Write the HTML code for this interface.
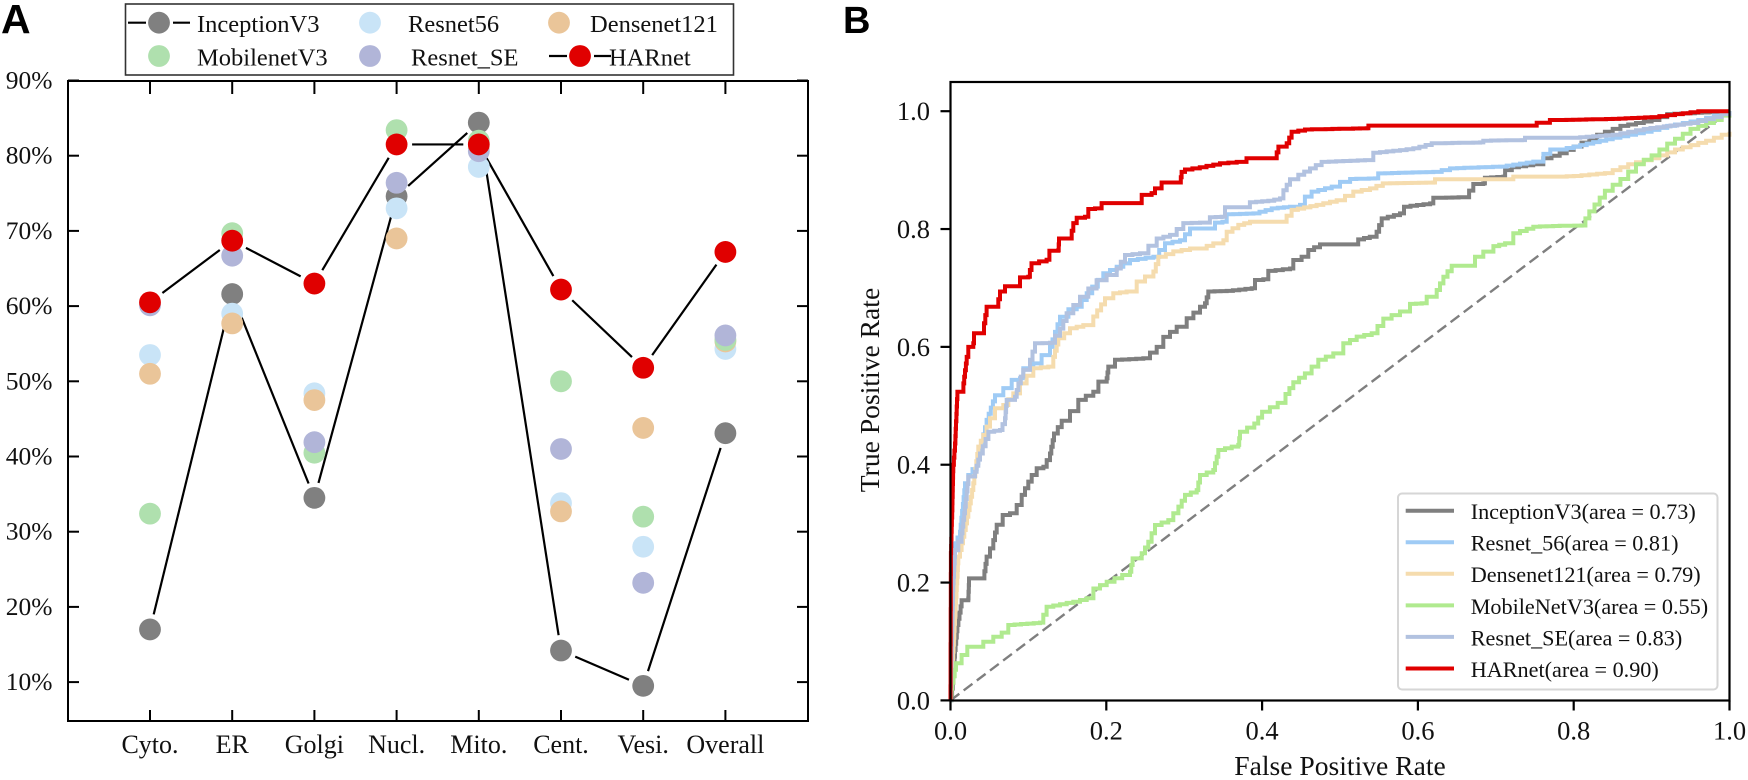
<!DOCTYPE html>
<html lang="en">
<head>
<meta charset="utf-8">
<title>Model comparison and ROC curves</title>
<style>
html,body{margin:0;padding:0;background:#fff;}
svg{display:block;}
text{font-family:"Liberation Serif",serif;fill:#111;}
.tag{font-family:"Liberation Sans",sans-serif;font-weight:bold;fill:#000;font-size:38px;}
</style>
</head>
<body>
<svg id="fig" xmlns="http://www.w3.org/2000/svg" width="1748" height="780" viewBox="0 0 1748 780">
  <rect width="1748" height="780" fill="#fff"/>
  <text class="tag" x="1" y="33" style="font-size:41px">A</text>
  <text class="tag" x="843" y="33">B</text>
  <g id="panelA"></g>
  <g id="panelB"></g>
</svg>
<script>
// ---------- Panel A data ----------
const categories = ['Cyto.','ER','Golgi','Nucl.','Mito.','Cent.','Vesi.','Overall'];
const yTicksA = [10,20,30,40,50,60,70,80,90];
const inceptionScores = [17,61.6,34.5,74.6,84.4,14.2,9.5,43.1];
const resnet56Scores = [53.5,59,48.4,73,78.5,33.8,28,54.3];
const densenetScores = [51,57.7,47.5,69,81,32.7,43.8,55.3];
const mobilenetScores = [32.4,69.7,40.5,83.4,82,50,32,55.5];
const resnetSeScores = [60.1,66.7,41.9,76.4,80.6,41,23.2,56.1];
const harnetScores = [60.5,68.7,63,81.5,81.5,62.2,51.8,67.2];

// ---------- Panel B data ----------
const xTicksB = [0,0.2,0.4,0.6,0.8,1];
const yTicksB = [0,0.2,0.4,0.6,0.8,1];
const inceptionFpr = [0,.003,.0058,.0088,.0143,.0229,.0237,.0421,.0464,.055,.0593,.067,.0764,.085,.0914,.1042,.1106,.1192,.1277,.1329,.1427,.1534,.164,.164,.1833,.1898,.2005,.2026,.2112,.2475,.2647,.2732,.2904,.3032,.3203,.3267,.331,.3545,.3866,.3909,.4016,.408,.4358,.44,.4507,.4593,.4743,.5212,.5233,.5383,.547,.5535,.577,.5822,.6156,.6198,.6604,.6711,.684,.686,.7098,.712,.7205,.748,.761,.782,.80,.83,.86,.90,.92,1];
const inceptionTpr = [0,.03,.0855,.128,.17,.173,.207,.207,.244,.272,.298,.3147,.3175,.3317,.3487,.3826,.394,.3967,.419,.453,.4747,.491,.493,.51,.524,.541,.5466,.5665,.578,.5806,.6,.617,.634,.6485,.668,.674,.694,.695,.6995,.7135,.7148,.729,.733,.7475,.753,.7645,.774,.774,.7825,.787,.7955,.818,.8265,.838,.8435,.853,.854,.8765,.8775,.887,.889,.9,.9048,.91,.92,.9285,.94,.96,.975,.985,.995,1];
const resnet56Fpr = [0,.0036,.0058,.0122,.0186,.0229,.0336,.0464,.0571,.0678,.0785,.0892,.0935,.1063,.1277,.1406,.1513,.162,.1748,.1962,.2133,.2304,.2604,.2754,.2946,.3074,.3203,.3374,.3396,.349,.3545,.3888,.4123,.4358,.4486,.455,.4636,.4893,.5,.513,.5449,.549,.6198,.6412,.7054,.7482,.7611,.77,.782,.80,.85,.89,.92,.96,1];
const resnet56Tpr = [0,.1987,.2666,.2864,.3684,.3826,.4024,.476,.518,.53,.544,.5466,.5637,.572,.6,.651,.664,.668,.691,.725,.736,.7475,.753,.776,.781,.801,.801,.801,.811,.8125,.825,.8265,.835,.838,.841,.855,.8635,.872,.88,.885,.886,.8945,.897,.903,.906,.9145,.9275,.935,.935,.94,.955,.965,.975,.985,1];
const densenetFpr = [0,.0058,.01,.0143,.0229,.0293,.0357,.0421,.0507,.0571,.0678,.0806,.0892,.1063,.1256,.132,.1384,.1534,.1705,.1833,.1983,.209,.2261,.239,.2604,.2668,.286,.3074,.3203,.3374,.3503,.3545,.3695,.3845,.425,.4379,.47,.4958,.5171,.5385,.5549,.6198,.622,.7182,.7225,.782,.80,.84,.87,.90,.93,.97,1];
const densenetTpr = [0,.142,.244,.2666,.323,.3684,.4307,.4505,.479,.4957,.5013,.521,.538,.5637,.5665,.583,.6146,.6316,.637,.6515,.6825,.691,.694,.711,.728,.753,.762,.767,.767,.7757,.781,.7955,.807,.8125,.8125,.8325,.841,.849,.8635,.869,.8775,.879,.8845,.8845,.889,.889,.89,.895,.91,.92,.935,.95,.965];
const mobilenetFpr = [0,.002,.007,.0216,.0336,.0421,.055,.0657,.0742,.1149,.1234,.1577,.1748,.1834,.2005,.2304,.2338,.2454,.2539,.2625,.2796,.2925,.301,.316,.3203,.3374,.3438,.3695,.3716,.39,.40,.42,.43,.44,.455,.4722,.4914,.5043,.5214,.5407,.5556,.577,.5899,.6049,.6113,.6241,.6327,.6434,.6711,.6733,.684,.6969,.7119,.7225,.7482,.782,.81,.82,.84,.86,.88,.90,.92,.95,.98,1];
const mobilenetTpr = [0,.03,.063,.091,.0912,.0997,.108,.115,.128,.132,.159,.1676,.1733,.19,.2015,.2185,.241,.2496,.2694,.2977,.306,.329,.3487,.357,.3825,.391,.425,.4336,.456,.47,.49,.505,.52,.54,.555,.578,.589,.606,.6174,.623,.648,.66,.673,.674,.685,.6965,.719,.7377,.7377,.753,.7617,.771,.776,.793,.804,.8056,.806,.83,.865,.885,.91,.925,.945,.97,.985,1];
const resnetSeFpr = [0,.0036,.0058,.0143,.0186,.0229,.0314,.0379,.0486,.0636,.07,.0721,.0828,.0871,.0935,.102,.1085,.1277,.1406,.149,.1662,.1876,.2004,.2133,.224,.2433,.2647,.2818,.2989,.3203,.333,.348,.3524,.376,.3844,.408,.423,.4273,.4358,.4465,.4615,.4764,.5321,.5428,.577,.5941,.6177,.6798,.684,.7332,.7375,.782,.80,.85,.89,.95,.98,1];
const resnetSeTpr = [0,.1987,.255,.2836,.329,.38,.388,.419,.456,.459,.479,.51,.5155,.538,.561,.578,.606,.607,.631,.657,.685,.713,.722,.733,.756,.759,.784,.79,.81,.811,.82,.821,.837,.837,.8455,.848,.852,.866,.8845,.892,.903,.914,.917,.9295,.934,.937,.9455,.947,.95,.951,.955,.955,.955,.96,.97,.98,.99,1];
const harnetFpr = [0,.0005,.0024,.0036,.0058,.0088,.0165,.0208,.0229,.0293,.0302,.04,.043,.0464,.0593,.0635,.07,.087,.0892,.0999,.104,.1234,.1269,.1384,.1393,.1534,.1577,.162,.1726,.1769,.1855,.194,.239,.2454,.2582,.2625,.271,.2946,.2967,.301,.32,.346,.3674,.38,.4166,.4209,.4316,.4379,.4551,.5343,.5364,.7503,.7525,.767,.7695,.782,.85,.90,.93,.96,1];
const harnetTpr = [0,.25,.3345,.4,.436,.524,.538,.583,.6,.606,.623,.623,.64,.668,.668,.694,.703,.703,.718,.719,.742,.748,.763,.764,.784,.784,.81,.819,.821,.834,.835,.844,.844,.858,.861,.869,.879,.879,.897,.901,.905,.9115,.914,.92,.92,.94,.9455,.965,.969,.971,.9755,.9755,.9805,.9805,.985,.985,.987,.99,.995,1,1];
const diagonalFpr = [0,1];
const diagonalTpr = [0,1];

const NS = 'http://www.w3.org/2000/svg';
function mk(parent, tag, attrs, txt) {
  const el = document.createElementNS(NS, tag);
  for (const k in attrs) el.setAttribute(k, attrs[k]);
  if (txt !== undefined) el.textContent = txt;
  parent.appendChild(el);
  return el;
}

// ---------- Axis functions ----------
const xA = i => 150 + i * 82.2;
const yA = v => 155.7 + (80 - v) * 7.52;
const xB = f => 950.5 + f * 779;
const yB = t => 700.4 - t * 589.2;

// Renders a curve as a fine staircase between its data points, like an ROC trace
function staircasePath(fpr, tpr) {
  let d = 'M' + xB(fpr[0]).toFixed(1) + ' ' + yB(tpr[0]).toFixed(1);
  for (let i = 1; i < fpr.length; i++) {
    const x0 = xB(fpr[i - 1]), y0 = yB(tpr[i - 1]);
    const x1 = xB(fpr[i]), y1 = yB(tpr[i]);
    const n = Math.max(1, Math.round(Math.max(Math.abs(x1 - x0), Math.abs(y1 - y0)) / 7));
    for (let k = 1; k <= n; k++) {
      const xn = x0 + (x1 - x0) * k / n;
      const yn = y0 + (y1 - y0) * k / n;
      d += 'H' + xn.toFixed(1) + 'V' + yn.toFixed(1);
    }
  }
  return d;
}

// ---------- Panel A ----------
const A = document.getElementById('panelA');
const FRAME_A = {l:68, t:81, r:808, b:721};

const seriesA = [
  {key:'inceptionv3', vals:inceptionScores, color:'#808080', line:true},
  {key:'resnet56', vals:resnet56Scores, color:'#c9e4f7', line:false},
  {key:'densenet121', vals:densenetScores, color:'#eac599', line:false},
  {key:'mobilenetv3', vals:mobilenetScores, color:'#afe0ae', line:false},
  {key:'resnet-se', vals:resnetSeScores, color:'#b1b5d8', line:false},
  {key:'harnet', vals:harnetScores, color:'#e00000', line:true}
];

// connecting lines with a small gap around the markers
seriesA.filter(s => s.line).forEach(s => {
  for (let i = 0; i < s.vals.length - 1; i++) {
    const x1 = xA(i), y1 = yA(s.vals[i]), x2 = xA(i + 1), y2 = yA(s.vals[i + 1]);
    const d = Math.hypot(x2 - x1, y2 - y1), gap = 15.5;
    const ux = (x2 - x1) / d, uy = (y2 - y1) / d;
    const seg = mk(A, 'line', {x1:x1 + ux * gap, y1:y1 + uy * gap, x2:x2 - ux * gap, y2:y2 - uy * gap, stroke:'#000', 'stroke-width':2.2});
    
    
  }
});

seriesA.forEach(s => {
  s.vals.forEach((v, i) => {
    const c = mk(A, 'circle', {cx:xA(i), cy:yA(v), r:10.9, fill:s.color});
    
    
  });
});

const frameA = mk(A, 'rect', {x:FRAME_A.l, y:FRAME_A.t, width:FRAME_A.r - FRAME_A.l, height:FRAME_A.b - FRAME_A.t, fill:'none', stroke:'#000', 'stroke-width':2});



categories.forEach((c, i) => {
  const t1 = mk(A, 'line', {x1:xA(i), x2:xA(i), y1:FRAME_A.t, y2:FRAME_A.t + 13, stroke:'#000', 'stroke-width':2});
  
  
  const t2 = mk(A, 'line', {x1:xA(i), x2:xA(i), y1:FRAME_A.b, y2:FRAME_A.b - 11, stroke:'#000', 'stroke-width':2});
  
  
  const lb = mk(A, 'text', {x:xA(i), y:753, 'text-anchor':'middle', 'font-size':26}, c);
  
  
});

yTicksA.forEach(v => {
  const t1 = mk(A, 'line', {x1:FRAME_A.l, x2:FRAME_A.l + 11, y1:yA(v), y2:yA(v), stroke:'#000', 'stroke-width':2});
  
  
  const t2 = mk(A, 'line', {x1:FRAME_A.r, x2:FRAME_A.r - 11, y1:yA(v), y2:yA(v), stroke:'#000', 'stroke-width':2});
  
  
  const lb = mk(A, 'text', {x:52.5, y:yA(v) + 8, 'text-anchor':'end', 'font-size':25.5}, v + '%');
  
  
});

// Legend A
const legA = mk(A, 'g', {});


const legBoxA = mk(legA, 'rect', {x:125.5, y:4, width:608, height:71, fill:'#fff', stroke:'#333', 'stroke-width':1.6});


const legendNamesA = ['InceptionV3','Resnet56','Densenet121','MobilenetV3','Resnet_SE','HARnet'];
const legendColorsA = ['#808080','#c9e4f7','#eac599','#afe0ae','#b1b5d8','#e00000'];
const legendMarkerX = [159,370,559,159,370,580];
const legendTextX = [197,408,590,197,411,609];
const legendRowY = [22.7,22.7,22.7,56,56,56];
legendNamesA.forEach((n, i) => {
  if (n === 'InceptionV3' || n === 'HARnet') {
    const mx = legendMarkerX[i], y = legendRowY[i];
    [[mx - 31, mx - 13], [mx + 14, mx + 31]].forEach(p => {
      const ln = mk(legA, 'line', {x1:p[0], x2:p[1], y1:y, y2:y, stroke:'#000', 'stroke-width':2.2});
      
      
    });
  }
  const m = mk(legA, 'circle', {cx:legendMarkerX[i], cy:legendRowY[i], r:10.9, fill:legendColorsA[i]});
  
  
  const t = mk(legA, 'text', {x:legendTextX[i], y:legendRowY[i] + 9.3, 'font-size':24.5}, n);
  
  
});

// ---------- Panel B ----------
const B = document.getElementById('panelB');
const FRAME_B = {l:950.5, t:82, r:1729.5, b:700.5};

const seriesB = [
  {key:'inceptionv3', fpr:inceptionFpr, tpr:inceptionTpr, color:'#7f7f7f', label:'InceptionV3(area = 0.73)'},
  {key:'resnet-56', fpr:resnet56Fpr, tpr:resnet56Tpr, color:'#9fcbf5', label:'Resnet_56(area = 0.81)'},
  {key:'densenet121', fpr:densenetFpr, tpr:densenetTpr, color:'#f5dcae', label:'Densenet121(area = 0.79)'},
  {key:'mobilenetv3', fpr:mobilenetFpr, tpr:mobilenetTpr, color:'#b0ea8f', label:'MobileNetV3(area = 0.55)'},
  {key:'resnet-se', fpr:resnetSeFpr, tpr:resnetSeTpr, color:'#b2c2e0', label:'Resnet_SE(area = 0.83)'},
  {key:'harnet', fpr:harnetFpr, tpr:harnetTpr, color:'#e00000', label:'HARnet(area = 0.90)'}
];

const diag = mk(B, 'line', {x1:xB(diagonalFpr[0]), y1:yB(diagonalTpr[0]), x2:xB(diagonalFpr[1]), y2:yB(diagonalTpr[1]), stroke:'#7f7f7f', 'stroke-width':2.4, 'stroke-dasharray':'11 5.5'});



seriesB.forEach(s => {
  const pl = mk(B, 'path', {d:staircasePath(s.fpr, s.tpr), fill:'none', stroke:s.color, 'stroke-width':4, 'stroke-linejoin':'miter'});
  
  
});

const frameB = mk(B, 'rect', {x:FRAME_B.l, y:FRAME_B.t, width:FRAME_B.r - FRAME_B.l, height:FRAME_B.b - FRAME_B.t, fill:'none', stroke:'#000', 'stroke-width':2.2});



xTicksB.forEach(v => {
  const t = mk(B, 'line', {x1:xB(v), x2:xB(v), y1:FRAME_B.b, y2:FRAME_B.b + 10, stroke:'#000', 'stroke-width':2.2});
  
  
  const lb = mk(B, 'text', {x:xB(v), y:739.5, 'text-anchor':'middle', 'font-size':26.5}, v.toFixed(1));
  
  
});
yTicksB.forEach(v => {
  const t = mk(B, 'line', {x1:FRAME_B.l - 10, x2:FRAME_B.l, y1:yB(v), y2:yB(v), stroke:'#000', 'stroke-width':2.2});
  
  
  const lb = mk(B, 'text', {x:930, y:yB(v) + 9, 'text-anchor':'end', 'font-size':26.5}, v.toFixed(1));
  
  
});

const xTitle = mk(B, 'text', {x:1340, y:775, 'text-anchor':'middle', 'font-size':27.6}, 'False Positive Rate');


const yTitle = mk(B, 'text', {x:0, y:0, 'text-anchor':'middle', 'font-size':27.6, transform:'translate(879 390) rotate(-90)'}, 'True Positive Rate');



// Legend B
const legB = mk(B, 'g', {});


const legBoxB = mk(legB, 'rect', {x:1398, y:493.5, width:319.5, height:196, rx:4, ry:4, fill:'#fff', 'fill-opacity':0.9, stroke:'#d6d6d6', 'stroke-width':2});


seriesB.forEach((s, i) => {
  const y = 510.7 + i * 31.55;
  const h = mk(legB, 'line', {x1:1405.7, x2:1454, y1:y, y2:y, stroke:s.color, 'stroke-width':4});
  
  
  const t = mk(legB, 'text', {x:1470.7, y:y + 8.4, 'font-size':22.2}, s.label);
  
  
});
</script>
</body>
</html>
